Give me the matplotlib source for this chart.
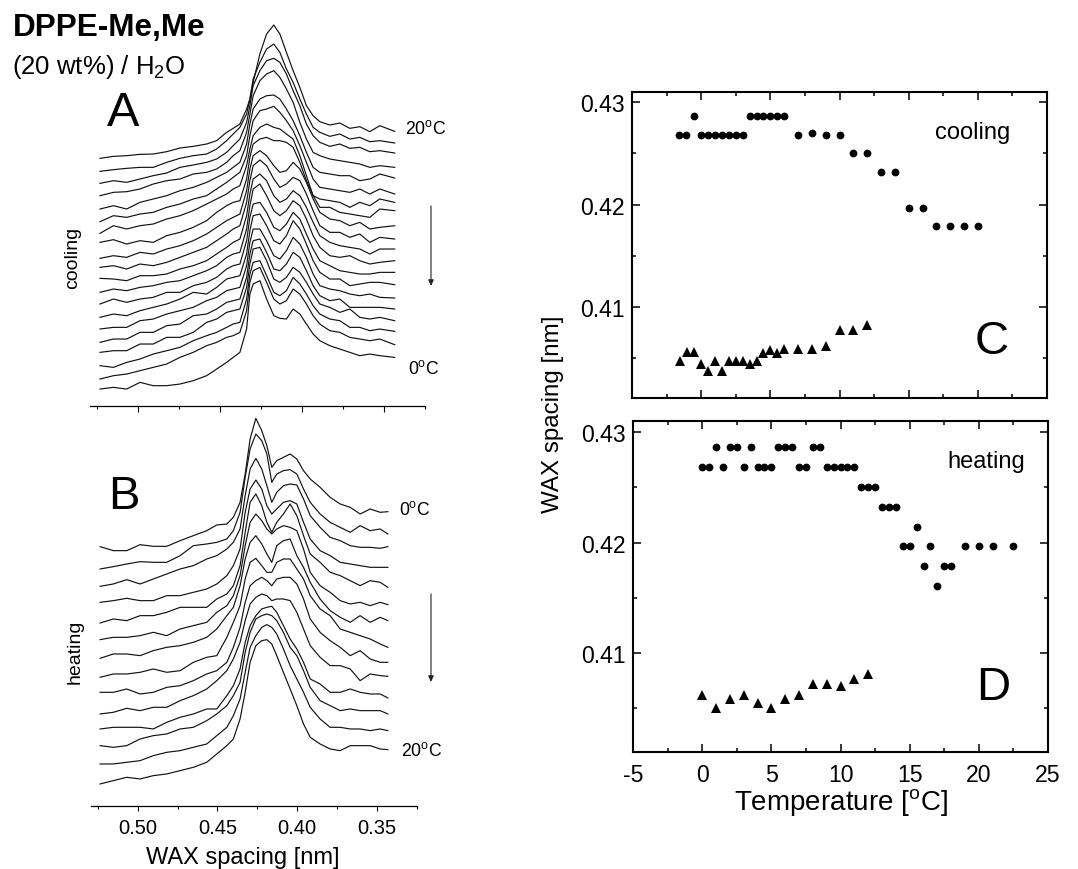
import matplotlib
matplotlib.use("Agg")
import matplotlib.pyplot as plt
from matplotlib.patches import FancyArrowPatch
from matplotlib.ticker import MultipleLocator, FixedLocator

plt.rcParams['font.family'] = ['Liberation Sans', 'DejaVu Sans']
plt.rcParams['mathtext.fontset'] = 'custom'
plt.rcParams['mathtext.rm'] = 'Liberation Sans'
plt.rcParams['mathtext.it'] = 'Liberation Sans'
plt.rcParams['mathtext.bf'] = 'Liberation Sans:bold'
plt.rcParams['axes.unicode_minus'] = False

# ---- panel A: WAX spacing grid (nm) and stacked traces (plot height units, larger = lower)
spacing_a = [.5234, .5152, .5071, .4990, .4909, .4827, .4746, .4665, .4583, .4522, .4461, .4421, .4380, .4339, .4319, .4299, .4258,
             .4217, .4173, .4136, .4096, .4055, .4014, .3974, .3933, .3892, .3831, .3770, .3709, .3648, .3587, .3526, .3435]
a01 = [478, 472, 470, 466, 465, 458, 447, 442, 435, 425, 400, 388, 375, 330, 300, 250, 165, 105, 78, 105, 160, 215, 265, 320, 350, 368, 378, 372, 388, 383, 398, 380, 397]
a02 = [517, 512, 508, 505, 505, 490, 478, 470, 465, 450, 425, 405, 385, 345, 300, 240, 190, 150, 135, 160, 210, 250, 300, 345, 385, 400, 412, 405, 420, 415, 428, 425, 432]
a03 = [553, 545, 550, 540, 530, 522, 505, 498, 490, 480, 460, 440, 420, 370, 320, 260, 215, 185, 178, 190, 225, 275, 320, 375, 410, 430, 442, 435, 448, 445, 458, 455, 462]
a04 = [590, 580, 578, 570, 555, 545, 540, 525, 520, 510, 490, 470, 455, 400, 345, 290, 245, 225, 215, 235, 270, 310, 370, 420, 460, 470, 480, 485, 490, 495, 505, 500, 505]
a05 = [630, 620, 630, 610, 600, 590, 575, 565, 550, 535, 520, 505, 490, 435, 375, 330, 300, 290, 288, 300, 330, 365, 410, 460, 505, 520, 525, 530, 530, 545, 540, 525, 537]
a06 = [668, 650, 655, 645, 640, 625, 615, 600, 590, 570, 550, 535, 520, 470, 410, 365, 335, 330, 322, 340, 365, 395, 440, 490, 540, 565, 570, 575, 580, 570, 585, 570, 585]
a07 = [703, 680, 690, 680, 675, 660, 650, 635, 615, 600, 585, 570, 560, 500, 450, 410, 385, 375, 385, 390, 405, 420, 470, 530, 590, 600, 605, 610, 625, 610, 620, 600, 610]
a08 = [730, 722, 735, 725, 730, 710, 700, 685, 665, 640, 620, 610, 605, 540, 475, 435, 420, 415, 425, 425, 430, 445, 490, 545, 590, 625, 625, 640, 645, 650, 655, 630, 635]
a09 = [778, 770, 775, 760, 765, 750, 740, 725, 705, 685, 665, 655, 645, 575, 510, 470, 455, 470, 500, 520, 515, 490, 510, 550, 600, 640, 660, 665, 680, 670, 690, 685, 680]
a10 = [805, 800, 810, 795, 800, 790, 775, 760, 745, 725, 705, 690, 680, 610, 545, 500, 483, 500, 540, 565, 555, 535, 545, 585, 635, 680, 700, 700, 715, 705, 730, 715, 720]
a11 = [838, 840, 845, 830, 830, 825, 810, 800, 785, 765, 745, 730, 720, 650, 585, 540, 525, 545, 590, 610, 600, 575, 590, 625, 670, 710, 730, 740, 745, 750, 765, 750, 750]
a12 = [880, 870, 875, 865, 860, 850, 845, 830, 815, 800, 775, 765, 760, 690, 620, 570, 555, 590, 635, 650, 635, 605, 620, 660, 710, 745, 770, 775, 770, 785, 795, 790, 785]
a13 = [915, 900, 910, 900, 895, 880, 880, 860, 850, 835, 810, 800, 795, 725, 655, 615, 610, 640, 685, 695, 675, 640, 660, 705, 750, 785, 800, 815, 820, 825, 825, 820, 820]
a14 = [955, 945, 950, 935, 925, 915, 900, 880, 885, 865, 840, 835, 830, 765, 695, 650, 645, 680, 725, 735, 710, 665, 690, 735, 785, 820, 840, 840, 860, 855, 850, 850, 857]
a15 = [990, 985, 985, 965, 960, 945, 935, 925, 905, 895, 875, 870, 865, 800, 730, 690, 690, 725, 770, 780, 755, 715, 735, 775, 825, 860, 870, 875, 885, 890, 885, 895, 897]
a16 = [1030, 1020, 1020, 1000, 1000, 980, 975, 950, 945, 930, 910, 905, 900, 835, 765, 725, 720, 760, 810, 815, 795, 760, 775, 815, 860, 890, 905, 900, 925, 925, 925, 925, 930]
a17 = [1060, 1055, 1055, 1035, 1035, 1015, 1015, 1000, 970, 960, 940, 935, 930, 865, 795, 750, 745, 785, 840, 850, 835, 805, 820, 850, 885, 915, 925, 940, 930, 955, 960, 955, 965]
a18 = [1100, 1105, 1090, 1080, 1065, 1055, 1045, 1025, 1010, 1000, 985, 975, 970, 900, 825, 790, 785, 830, 880, 890, 875, 835, 855, 885, 920, 945, 960, 965, 985, 985, 995, 990, 997]
a19 = [1140, 1130, 1125, 1115, 1105, 1095, 1075, 1060, 1040, 1030, 1015, 1010, 1000, 935, 850, 815, 805, 850, 900, 915, 905, 870, 885, 915, 950, 975, 995, 1000, 1015, 1020, 1025, 1020, 1037]
a20 = [1170, 1165, 1170, 1150, 1160, 1160, 1155, 1145, 1130, 1110, 1090, 1075, 1060, 990, 885, 855, 845, 900, 950, 958, 960, 930, 945, 975, 1005, 1025, 1040, 1050, 1060, 1070, 1065, 1070, 1075]
traces_a = [a01, a02, a03, a04, a05, a06, a07, a08, a09, a10, a11, a12, a13, a14, a15, a16, a17, a18, a19, a20]

# ---- panel B
spacing_b = [.5236, .5153, .5069, .4985, .4902, .4818, .4734, .4651, .4567, .4504, .4441, .4400, .4358, .4326, .4295, .4259, .4222,
             .4190, .4159, .4128, .4086, .4044, .4002, .3960, .3918, .3856, .3793, .3730, .3667, .3605, .3542, .3479, .3431]
b01 = [443, 455, 455, 437, 442, 442, 425, 410, 395, 378, 375, 355, 310, 225, 120, 58, 95, 140, 205, 185, 175, 165, 180, 215, 240, 265, 295, 315, 325, 345, 330, 340, 338]
b02 = [510, 503, 495, 488, 490, 490, 470, 440, 435, 430, 420, 395, 340, 235, 150, 105, 125, 165, 250, 225, 215, 212, 225, 270, 310, 345, 370, 385, 400, 380, 395, 390, 405]
b03 = [562, 555, 542, 555, 540, 525, 510, 500, 480, 470, 450, 430, 390, 290, 210, 178, 210, 260, 310, 280, 260, 255, 258, 300, 350, 385, 415, 425, 440, 445, 445, 448, 443]
b04 = [610, 605, 598, 605, 605, 590, 590, 580, 570, 555, 530, 500, 450, 340, 270, 243, 270, 320, 345, 330, 310, 305, 315, 370, 420, 455, 470, 490, 495, 500, 505, 505, 505]
b05 = [672, 660, 665, 650, 650, 640, 625, 625, 625, 600, 585, 560, 500, 400, 310, 285, 320, 370, 400, 370, 345, 315, 350, 410, 465, 490, 520, 530, 545, 560, 545, 550, 565]
b06 = [722, 715, 715, 710, 700, 710, 690, 680, 670, 640, 620, 590, 530, 440, 370, 345, 365, 390, 405, 390, 380, 385, 395, 450, 520, 560, 580, 605, 615, 610, 620, 610, 617]
b07 = [778, 765, 765, 770, 755, 745, 740, 730, 715, 690, 650, 625, 560, 480, 430, 410, 435, 465, 490, 440, 425, 420, 470, 505, 550, 600, 635, 655, 670, 650, 670, 655, 665]
b08 = [835, 825, 825, 820, 810, 820, 815, 790, 775, 770, 715, 670, 620, 540, 490, 478, 500, 520, 520, 490, 480, 480, 510, 540, 590, 630, 650, 690, 700, 710, 720, 735, 745]
b09 = [880, 880, 870, 885, 880, 865, 860, 845, 825, 815, 790, 745, 685, 610, 560, 545, 535, 545, 560, 540, 535, 535, 555, 600, 660, 700, 725, 745, 770, 755, 780, 790, 790]
b10 = [945, 940, 928, 935, 925, 925, 905, 890, 870, 845, 815, 780, 730, 665, 615, 595, 585, 590, 605, 600, 600, 605, 640, 690, 740, 775, 800, 800, 810, 845, 825, 830, 832]
b11 = [990, 985, 985, 985, 990, 970, 955, 945, 930, 930, 890, 860, 810, 730, 680, 650, 630, 625, 622, 640, 680, 720, 750, 790, 840, 855, 880, 880, 870, 880, 885, 885, 897]
b12 = [1040, 1045, 1040, 1020, 1010, 1005, 990, 985, 965, 945, 920, 890, 850, 760, 700, 660, 650, 645, 650, 665, 700, 745, 770, 815, 865, 905, 920, 935, 930, 935, 935, 935, 945]
b13 = [1095, 1095, 1090, 1085, 1070, 1060, 1055, 1045, 1035, 1010, 985, 950, 900, 820, 745, 710, 685, 677, 685, 705, 750, 800, 840, 880, 925, 960, 985, 985, 990, 990, 995, 990, 995]
b14 = [1155, 1145, 1135, 1140, 1130, 1125, 1115, 1105, 1090, 1065, 1040, 1020, 960, 880, 790, 740, 725, 722, 735, 770, 820, 870, 920, 975, 1015, 1035, 1050, 1055, 1040, 1040, 1040, 1050, 1052]
traces_b = [b01, b02, b03, b04, b05, b06, b07, b08, b09, b10, b11, b12, b13, b14]

# ---- panel C (cooling)
c_circle_t = [-1.6, -1.1, -0.55, 0, .5, 1, 1.5, 2, 2.5, 3, 3.5, 4, 4.5, 5, 5.5, 6, 7, 8, 9, 10, 11, 12, 13, 14, 15, 16, 17, 18, 19, 20]
c_circle_d = [.4268, .4268, .4286, .4268, .4268, .4268, .4268, .4268, .4268, .4268, .4286, .4286, .4286, .4286, .4286, .4286,
              .4268, .4270, .4268, .4268, .4250, .4250, .4232, .4232, .4197, .4197, .4179, .4179, .4179, .4179]
c_tri_t = [-1.5, -1, -.5, 0, .5, 1, 1.5, 2, 2.5, 3, 3.5, 4, 4.5, 5, 5.5, 6, 7, 8, 9, 10, 11, 12]
c_tri_d = [.40473, .40561, .40561, .40441, .40372, .40473, .40372, .40473, .40473, .40473, .40441, .40473, .40554, .4058, .40554,
           .40587, .40587, .40587, .4062, .40776, .40776, .40821]

# ---- panel D (heating)
d_circle_t = [0, .5, 1.5, 3, 4, 4.5, 5, 7, 7.5, 9, 9.5, 10, 10.5, 11,
              1, 2, 2.5, 3.5, 5.5, 6, 6.5, 8, 8.5,
              11.5, 12, 12.5, 13, 13.5, 14, 15.5, 14.5, 15, 16.5, 19, 20, 21, 22.5, 16, 17.5, 18, 17]
d_circle_d = [.42684] * 14 + [.42865] * 9 + [.4250] * 3 + [.4232] * 3 + [.4214] + [.4197] * 7 + [.4179] * 3 + [.4161]
d_tri_t = [0, 1, 2, 3, 4, 5, 6, 7, 8, 9, 10, 11, 12]
d_tri_d = [.40618, .40504, .40588, .40618, .40546, .40504, .40588, .40618, .40723, .40723, .40699, .40762, .40808]

W, H = 1078, 870
fig = plt.figure(figsize=(W / 100, H / 100), dpi=100, facecolor='white')


def box(l, t, r, b):
    return [l / W, 1 - b / H, (r - l) / W, (b - t) / H]


SPACING_LIMS = (.5295, .325)
ax_a = fig.add_axes(box(90, 0, 425, 406.7))
ax_b = fig.add_axes(box(90.7, 400, 416.7, 807.3))
for ax, grid, traces, ymax in ((ax_a, spacing_a, traces_a, 1220), (ax_b, spacing_b, traces_b, 1222)):
    for tr in traces:
        ax.plot(grid, tr, color='#111111', lw=0.85, solid_joinstyle='round')
    ax.set_xlim(*SPACING_LIMS)
    ax.set_ylim(ymax, 0)
    ax.patch.set_alpha(0)
    for s in ('top', 'left', 'right'):
        ax.spines[s].set_visible(False)
    ax.spines['bottom'].set_linewidth(0.9)
    ax.yaxis.set_visible(False)
    ax.xaxis.set_major_locator(FixedLocator([.50, .45, .40, .35]))
    ax.xaxis.set_minor_locator(FixedLocator([.525, .475, .425, .375, .325]))
    ax.tick_params(axis='x', which='major', length=4, width=0.8, direction='out')
    ax.tick_params(axis='x', which='minor', length=2.5, width=0.8, direction='out')

ax_a.set_xticklabels([])
ax_b.set_xticklabels(['0.50', '0.45', '0.40', '0.35'], fontsize=14.5)
ax_b.tick_params(axis='x', which='major', pad=5, length=3.5)
ax_b.tick_params(axis='x', which='minor', length=2)

ax_c = fig.add_axes(box(632, 93, 1047, 399))
ax_d = fig.add_axes(box(633, 422, 1048, 753))
for ax, ct, cd, tt, td in ((ax_c, c_circle_t, c_circle_d, c_tri_t, c_tri_d), (ax_d, d_circle_t, d_circle_d, d_tri_t, d_tri_d)):
    ax.plot(ct, cd, ls='none', marker='o', ms=5.6, color='black', mew=0)
    ax.plot(tt, td, ls='none', marker='^', ms=7.8, color='black', mew=0)
    ax.set_xlim(-5, 25)
    ax.xaxis.set_major_locator(MultipleLocator(5))
    ax.xaxis.set_minor_locator(MultipleLocator(2.5))
    ax.yaxis.set_major_locator(FixedLocator([.41, .42, .43]))
    ax.yaxis.set_minor_locator(FixedLocator([.405, .415, .425]))
    ax.tick_params(which='major', direction='in', top=True, right=True, length=5.5, width=1.1, labelsize=16.6)
    ax.tick_params(axis='y', which='major', pad=5)
    ax.tick_params(axis='x', which='major', pad=8)
    ax.tick_params(which='minor', direction='in', top=True, right=True, length=3, width=1.1)
    ax.set_yticklabels(['0.41', '0.42', '0.43'])
    for s in ax.spines.values():
        s.set_linewidth(1.5)
ax_c.set_ylim(.40112, .43098)
ax_d.set_ylim(.40104, .43100)
ax_c.set_xticklabels([])


def txt(x, y, s, size, **kw):
    kw.setdefault('ha', 'center')
    kw.setdefault('va', 'center')
    fig.text(x / W, 1 - y / H, s, fontsize=size, **kw)


txt(13, 28, 'DPPE-Me,Me', 22.6, ha='left', fontweight='bold')
txt(12, 67, '(20 wt%) / H$_{2}$O', 18.5, ha='left')
txt(123, 113, 'A', 35)
txt(124, 497, 'B', 34)
txt(992, 342, 'C', 34)
txt(993, 688, 'D', 34)
txt(426, 129, '20$^{\\mathrm{o}}$C', 12.7)
txt(424, 369, '0$^{\\mathrm{o}}$C', 12.7)
txt(415, 510, '0$^{\\mathrm{o}}$C', 12.7)
txt(422, 751, '20$^{\\mathrm{o}}$C', 12.7)
txt(73, 258, 'cooling', 14, rotation=90)
txt(75, 652, 'heating', 14, rotation=90)
txt(243, 858, 'WAX spacing [nm]', 17)
txt(973, 133, 'cooling', 17)
txt(986, 462, 'heating', 17)
txt(841, 803, 'Temperature [$^{\\mathrm{o}}$C]', 20)
txt(553, 414, 'WAX spacing [nm]', 17.4, rotation=90)

for x0, y0, y1 in ((431, 207, 287), (431, 595, 683)):
    fig.add_artist(FancyArrowPatch(
        (x0 / W, 1 - y0 / H), (x0 / W, 1 - y1 / H), transform=fig.transFigure,
        arrowstyle='-|>,head_length=3.5,head_width=1.6', lw=0.8, color='#222222', shrinkA=0, shrinkB=0))

fig.savefig('out.png', dpi=100, facecolor='white')
